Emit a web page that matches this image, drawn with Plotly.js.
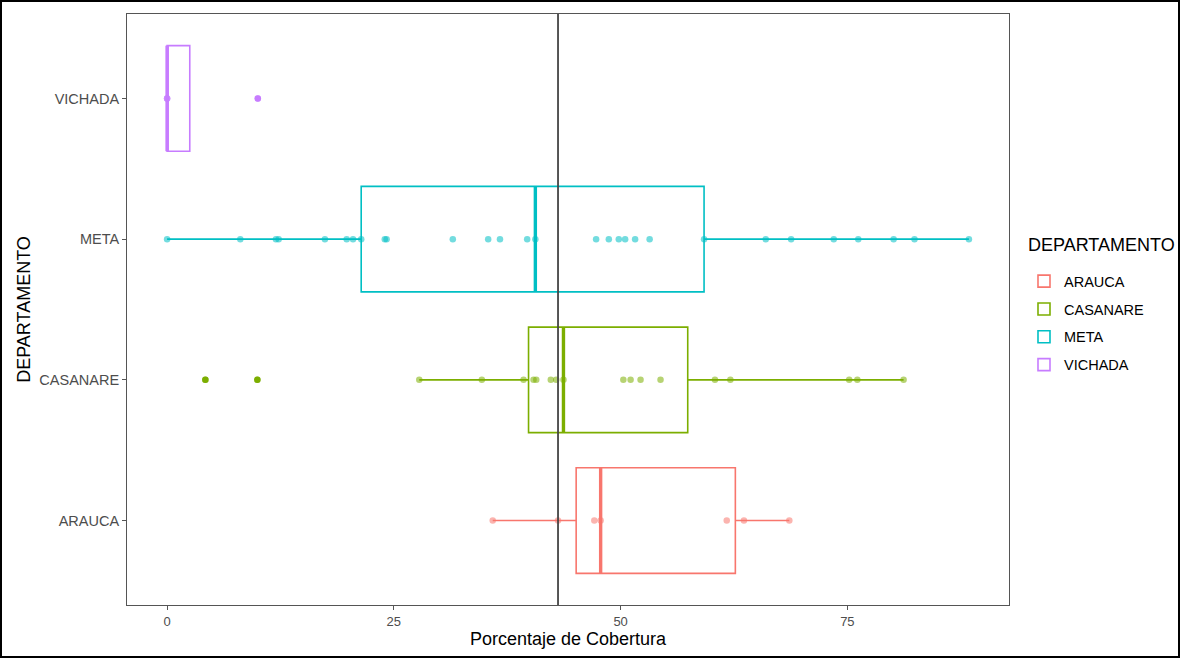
<!DOCTYPE html>
<html>
<head>
<meta charset="utf-8">
<script src="https://cdn.plot.ly/plotly-3.0.1.min.js"></script>
<style>
html,body{margin:0;padding:0;background:#fff;}
#chart{width:1180px;height:658px;}
#frame{position:fixed;left:0;top:0;width:1180px;height:658px;box-sizing:border-box;border:2px solid #000;pointer-events:none;}
</style>
</head>
<body>
<div id="chart"></div>
<div id="frame"></div>
<script>
// ---- data ----
const departamentos = ['ARAUCA', 'CASANARE', 'META', 'VICHADA'];
const colores = ['#F8766D', '#7CAE00', '#00BFC4', '#C77CFF'];

const arauca = [35.9, 43.1, 47.1, 47.8, 61.7, 63.6, 68.6];
const casanare = [4.22, 9.95, 27.8, 34.7, 39.3, 40.4, 40.7, 42.3, 42.9, 43.7,
                  50.3, 51.1, 52.2, 54.4, 60.4, 62.1, 75.2, 76.1, 81.2];
const meta = [0, 8.07, 12.0, 12.3, 17.4, 19.8, 20.5, 21.4, 24.0, 24.2, 31.5, 35.4,
              36.7, 39.7, 40.6, 47.3, 48.7, 49.8, 50.5, 51.6, 53.2, 59.2, 66.0,
              68.8, 73.5, 76.2, 80.1, 82.4, 88.4];
const vichada = [0, 0, 0, 10];

const lineaReferencia = 43.1;

const series = [arauca, casanare, meta, vichada];

// ---- box statistics (R type-7 quantiles, 1.5 IQR whiskers) ----
function quantile(sorted, p) {
  const h = (sorted.length - 1) * p;
  const lo = Math.floor(h), hi = Math.ceil(h);
  return sorted[lo] + (h - lo) * (sorted[hi] - sorted[lo]);
}
function stats(vals) {
  const s = vals.slice().sort((a, b) => a - b);
  const q1 = quantile(s, 0.25), med = quantile(s, 0.5), q3 = quantile(s, 0.75);
  const iqr = q3 - q1;
  const lf = q1 - 1.5 * iqr, uf = q3 + 1.5 * iqr;
  const inside = s.filter(v => v >= lf && v <= uf);
  return {
    q1: q1, med: med, q3: q3,
    lo: Math.min(...inside), hi: Math.max(...inside),
    out: s.filter(v => v < lf || v > uf)
  };
}

const halfW = 0.375;
const traces = [];
series.forEach((vals, i) => {
  const st = stats(vals);
  const c = colores[i];
  traces.push({
    type: 'box', orientation: 'h', name: departamentos[i], legendgroup: departamentos[i],
    y: [i], q1: [st.q1], median: [st.med], q3: [st.q3],
    lowerfence: [st.lo], upperfence: [st.hi],
    width: 0.75, whiskerwidth: 0, boxpoints: false,
    line: {color: c, width: 1.6}, fillcolor: 'rgba(255,255,255,0)',
    hoverinfo: 'skip', showlegend: true
  });
  // thicker median
  traces.push({
    type: 'scatter', mode: 'lines', x: [st.med, st.med], y: [i - halfW, i + halfW],
    line: {color: c, width: 3.4}, showlegend: false, hoverinfo: 'skip'
  });
  // outliers (solid)
  if (st.out.length) {
    traces.push({
      type: 'scatter', mode: 'markers', x: st.out, y: st.out.map(() => i),
      marker: {color: c, size: 6.5}, showlegend: false, hoverinfo: 'skip'
    });
  }
  // all points (semi-transparent)
  traces.push({
    type: 'scatter', mode: 'markers', x: vals, y: vals.map(() => i),
    marker: {color: c, size: 6.5, opacity: 0.55}, showlegend: false, hoverinfo: 'skip'
  });
});

const layout = {
  width: 1180, height: 658,
  margin: {l: 127, r: 171, t: 14, b: 53},
  paper_bgcolor: '#fff', plot_bgcolor: '#fff',
  font: {family: 'Liberation Sans, Arial, sans-serif', color: '#000'},
  showlegend: true,
  legend: {
    x: 1.017, xanchor: 'left', y: 0.575, yanchor: 'top',
    font: {size: 14.5, color: '#000'}, tracegroupgap: 6, itemwidth: 30
  },
  annotations: [{
    text: 'DEPARTAMENTO', xref: 'paper', yref: 'paper', x: 1.019, xanchor: 'left',
    y: (605 - 245) / 591, yanchor: 'middle', showarrow: false,
    font: {size: 18, color: '#000'}
  }],
  xaxis: {
    range: [-4.42, 92.82], tickvals: [0, 25, 50, 75], ticktext: ['0', '25', '50', '75'],
    showgrid: false, zeroline: false,
    showline: true, mirror: true, linecolor: '#555', linewidth: 1,
    ticks: 'outside', ticklen: 4, tickcolor: '#555',
    tickfont: {size: 13, color: '#4d4d4d'},
    title: {text: 'Porcentaje de Cobertura', font: {size: 18, color: '#000'}, standoff: 4}
  },
  yaxis: {
    range: [-0.6, 3.6], tickvals: [0, 1, 2, 3], ticktext: departamentos,
    showgrid: false, zeroline: false,
    showline: true, mirror: true, linecolor: '#555', linewidth: 1,
    ticks: 'outside', ticklen: 4, tickcolor: '#555',
    tickfont: {size: 14.5, color: '#4d4d4d'},
    title: {text: 'DEPARTAMENTO', font: {size: 18, color: '#000'}, standoff: 4}
  },
  shapes: [{
    type: 'line', xref: 'x', yref: 'paper', x0: lineaReferencia, x1: lineaReferencia,
    y0: 0, y1: 1, line: {color: '#444', width: 1.8}, layer: 'above'
  }]
};

Plotly.newPlot('chart', traces, layout, {displayModeBar: false, staticPlot: true});
</script>
</body>
</html>
